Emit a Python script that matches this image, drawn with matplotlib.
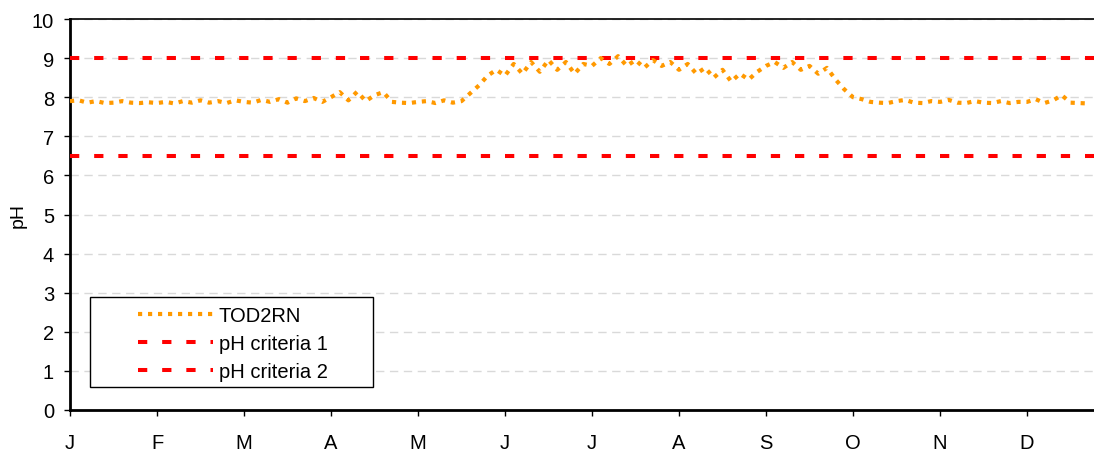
import numpy as np
import matplotlib.pyplot as plt
from matplotlib.patches import Rectangle

plt.rcParams['font.family'] = ['Liberation Sans', 'DejaVu Sans']

# month labels (equally spaced category axis)
months = ['J', 'F', 'M', 'A', 'M', 'J', 'J', 'A', 'S', 'O', 'N', 'D']

# TOD2RN pH, read roughly every 0.1 month off the picture
tod2rn = [
    # Jan
    7.90, 7.92, 7.86, 7.90, 7.85, 7.86, 7.90, 7.86, 7.85, 7.87,
    # Feb
    7.85, 7.88, 7.84, 7.90, 7.86, 7.92, 7.86, 7.90, 7.85, 7.92,
    # Mar
    7.88, 7.86, 7.93, 7.88, 7.95, 7.86, 7.97, 7.90, 7.98, 7.88,
    # Apr
    8.00, 8.13, 7.92, 8.14, 7.90, 8.05, 8.13, 7.88, 7.86, 7.85,
    # May
    7.88, 7.90, 7.85, 7.92, 7.86, 7.90, 8.10, 8.30, 8.55, 8.70,
    # Jun
    8.55, 8.85, 8.60, 8.90, 8.65, 8.95, 8.70, 8.90, 8.60, 8.85,
    # Jul
    8.80, 9.00, 8.85, 9.05, 8.80, 8.95, 8.75, 8.95, 8.80, 8.90,
    # Aug
    8.70, 8.85, 8.60, 8.75, 8.50, 8.70, 8.40, 8.60, 8.45, 8.65,
    # Sep
    8.80, 8.90, 8.75, 8.90, 8.70, 8.80, 8.60, 8.75, 8.45, 8.20,
    # Oct
    8.00, 7.95, 7.88, 7.86, 7.85, 7.90, 7.93, 7.86, 7.85, 7.90,
    # Nov
    7.88, 7.93, 7.86, 7.85, 7.90, 7.86, 7.85, 7.90, 7.85, 7.88,
    # Dec
    7.88, 7.95, 7.85, 7.92, 8.05, 7.86, 7.85, 7.84,
]
criteria_1 = 9.0
criteria_2 = 6.5

W, H = 1094, 456
fig = plt.figure(figsize=(W / 100, H / 100), dpi=100)
ax = fig.add_axes([70 / W, (H - 411) / H, 1024 / W, 391 / H])

x = np.arange(len(tod2rn)) * 0.1
x_end = 11.77

ax.plot(x, tod2rn, color='#FF9900', linewidth=3.0, linestyle=(0, (1, 1.4)),
        label='TOD2RN', zorder=4)
ax.plot([0, x_end], [criteria_1, criteria_1], color='#FF0000', linewidth=2.9,
        linestyle=(0, (2.3, 3.7)), label='pH criteria 1', zorder=3)
ax.plot([0, x_end], [criteria_2, criteria_2], color='#FF0000', linewidth=2.9,
        linestyle=(0, (2.3, 3.7)), label='pH criteria 2', zorder=3)

ax.set_xlim(0, x_end)
ax.set_ylim(0, 10)
ax.set_yticks(range(0, 11))
ax.set_xticks(range(12))
ax.set_xticklabels(months)

ax.yaxis.grid(True, color='#D9D9D9', linestyle=(0, (6, 4)), linewidth=1)
ax.set_axisbelow(True)

for s in ['left', 'bottom']:
    ax.spines[s].set_linewidth(2)
ax.spines['top'].set_linewidth(1.2)
ax.spines['right'].set_visible(False)
ax.tick_params(axis='both', direction='out', length=4.5, width=1, labelsize=14.5,
               colors='black')
ax.tick_params(axis='y', pad=7)
ax.tick_params(axis='x', pad=12)
ax.set_ylabel('pH', fontsize=14, labelpad=4)

# legend frame drawn by hand to match the wide box
frame = Rectangle((90 / W, 1 - 388 / H), 283 / W, 90 / H,
                  transform=fig.transFigure, facecolor='white',
                  edgecolor='black', linewidth=1, zorder=5, clip_on=False)
ax.add_patch(frame)
leg = ax.legend(loc='upper left', bbox_to_anchor=(124 / W, 1 - 293 / H),
                bbox_transform=fig.transFigure, frameon=False, fontsize=14.5,
                handlelength=3.7, handletextpad=0.3, labelspacing=0.45,
                borderpad=0.2)
leg.set_zorder(6)

fig.savefig('out.png', dpi=100)
